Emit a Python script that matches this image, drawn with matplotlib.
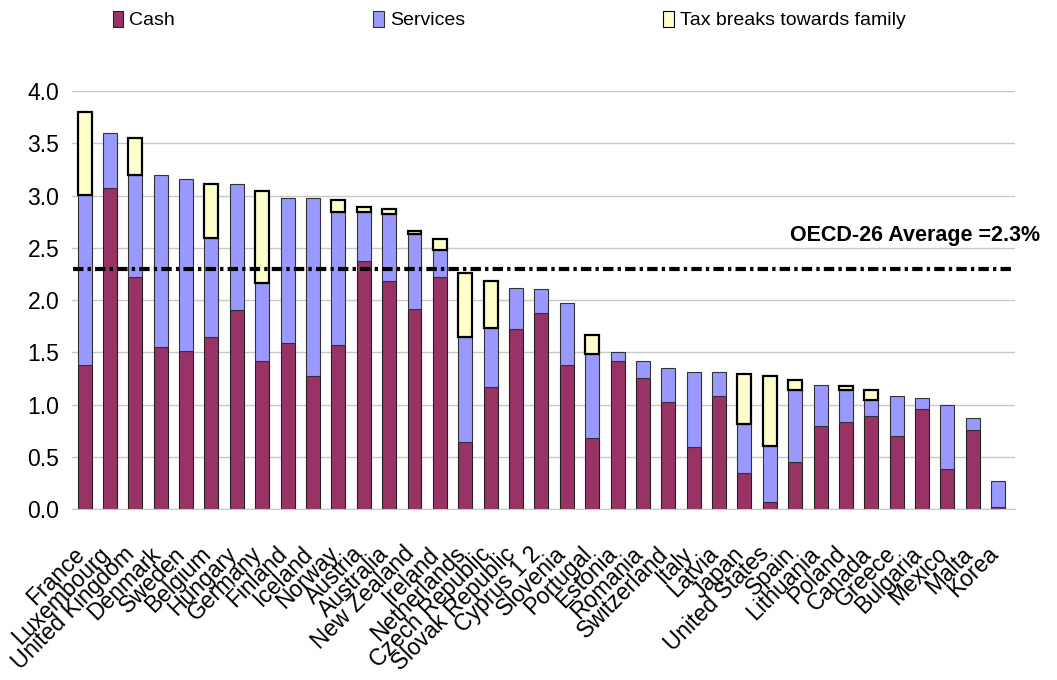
import numpy as np
import matplotlib
matplotlib.use('Agg')
import matplotlib.pyplot as plt
import matplotlib.transforms as mtransforms

plt.rcParams['font.family'] = ['Liberation Sans', 'DejaVu Sans']

countries = ['France', 'Luxembourg', 'United Kingdom', 'Denmark', 'Sweden', 'Belgium',
             'Hungary', 'Germany', 'Finland', 'Iceland', 'Norway', 'Austria', 'Australia',
             'New Zealand', 'Ireland', 'Netherlands', 'Czech Republic', 'Slovak Republic',
             'Cyprus 1 2', 'Slovenia', 'Portugal', 'Estonia', 'Romania', 'Switzerland',
             'Italy', 'Latvia', 'Japan', 'United States', 'Spain', 'Lithuania', 'Poland',
             'Canada', 'Greece', 'Bulgaria', 'Mexico', 'Malta', 'Korea']

cash = [1.38, 3.07, 2.22, 1.55, 1.51, 1.65, 1.90, 1.42, 1.59, 1.27, 1.57, 2.37, 2.18,
        1.91, 2.22, 0.64, 1.17, 1.72, 1.88, 1.38, 0.68, 1.42, 1.25, 1.02, 0.59, 1.08,
        0.34, 0.07, 0.45, 0.79, 0.83, 0.89, 0.70, 0.96, 0.38, 0.76, 0.02]

services = [1.63, 0.53, 0.98, 1.65, 1.65, 0.94, 1.21, 0.74, 1.39, 1.71, 1.27, 0.47, 0.64,
            0.72, 0.26, 1.01, 0.56, 0.40, 0.23, 0.59, 0.80, 0.08, 0.17, 0.33, 0.72, 0.23,
            0.47, 0.53, 0.69, 0.40, 0.31, 0.15, 0.38, 0.10, 0.62, 0.11, 0.25]

tax_breaks = [0.79, 0.00, 0.35, 0.00, 0.00, 0.52, 0.00, 0.88, 0.00, 0.00, 0.12, 0.05, 0.05,
              0.03, 0.10, 0.61, 0.45, 0.00, 0.00, 0.00, 0.19, 0.00, 0.00, 0.00, 0.00, 0.00,
              0.48, 0.67, 0.09, 0.00, 0.04, 0.10, 0.00, 0.00, 0.00, 0.00, 0.00]

oecd_average = 2.3

x = np.arange(len(countries))
cash = np.array(cash)
services = np.array(services)
tax_breaks = np.array(tax_breaks)

fig = plt.figure(figsize=(10.57, 6.8), dpi=100)
ax = fig.add_axes([0.068, 0.2515, 0.892, 0.6145])

ax.set_axisbelow(True)
ax.yaxis.grid(True, color='#c8c8c8', linewidth=1)

width = 0.55
ax.bar(x, cash, width, color='#993366', edgecolor='#222222', linewidth=0.8, label='Cash')
ax.bar(x, services, width, bottom=cash, color='#9999ff', edgecolor='#333333',
       linewidth=0.8, label='Services')
tb = tax_breaks > 0
ax.bar(x[tb], tax_breaks[tb], width, bottom=(cash + services)[tb], color='#ffffcc',
       edgecolor='black', linewidth=1.6)
# legend proxy with thinner edge
ax.bar([0], [0], width, color='#ffffcc', edgecolor='black', linewidth=0.8,
       label='Tax breaks towards family')

ax.plot([-0.45, len(countries) - 0.35], [oecd_average, oecd_average], color='black',
        linewidth=3, linestyle=(0, (2.5, 1.0, 0.8, 1.0)))
ax.text(27.8, 2.62, 'OECD-26 Average =2.3%', fontsize=15.5, fontweight='bold',
        va='center', ha='left', clip_on=False)

ax.set_xlim(-0.5, len(countries) - 0.35)
ax.set_ylim(0, 4.0)
ax.set_yticks(np.arange(0, 4.01, 0.5))
ax.set_yticklabels([f'{v:.1f}' for v in np.arange(0, 4.01, 0.5)], fontsize=16.5)
ax.set_xticks(x)
ax.set_xticklabels(countries, rotation=45, ha='right', rotation_mode='anchor', fontsize=16.5)
ax.tick_params(axis='x', length=0, pad=24)
ax.tick_params(axis='y', length=0, pad=9)

shift = mtransforms.ScaledTranslation(-12 / 100, 0, fig.dpi_scale_trans)
for lab in ax.get_xticklabels():
    lab.set_transform(lab.get_transform() + shift)

for s in ['top', 'right', 'left']:
    ax.spines[s].set_visible(False)
ax.spines['bottom'].set_color('#c8c8c8')

handles, labels = ax.get_legend_handles_labels()
fig.legend(handles, labels, loc='upper left', bbox_to_anchor=(0.09, 1.01), ncol=3,
           frameon=False, fontsize=14, handlelength=0.55, handleheight=0.9,
           handletextpad=0.3, columnspacing=10.2)

fig.savefig('out.png', dpi=100)
